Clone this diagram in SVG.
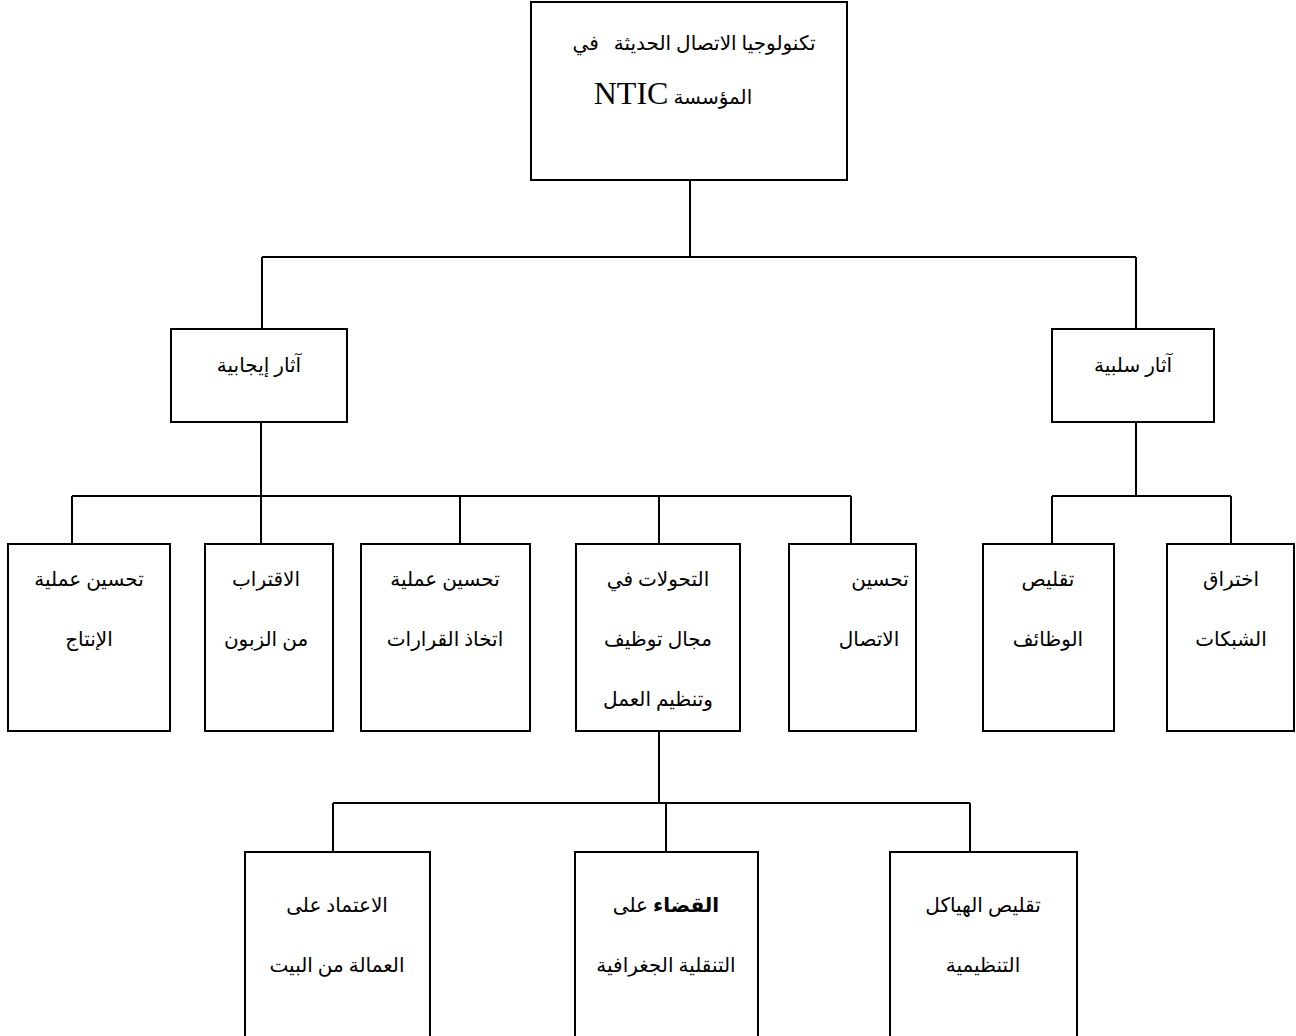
<svg xmlns="http://www.w3.org/2000/svg" width="1296" height="1036" viewBox="0 0 1296 1036">
<style>
.box{fill:#fff;stroke:#000;stroke-width:2}
.ln{fill:none;stroke:#000;stroke-width:2}
text{font-family:"Liberation Serif","DejaVu Sans",serif;font-size:20px;fill:#000;text-anchor:middle;direction:rtl}
.lat{font-size:32px}
</style>
<rect width="1296" height="1036" fill="#fff"/>
<g id="connectors">
<path class="ln" d="M690 180V257M262 257H1136M262 257V329M1136 257V329"/>
<path class="ln" d="M261 422V496M72 496H851M72 496V544M261 496V544M460 496V544M659 496V544M851 496V544"/>
<path class="ln" d="M1136 422V496M1052 496H1231M1052 496V544M1231 496V544"/>
<path class="ln" d="M659 731V803M333 803H970M333 803V852M666 803V852M970 803V852"/>
</g>
<g id="root"><rect class="box" x="531" y="2" width="316" height="178"/>
<text x="694" y="50" xml:space="preserve">تكنولوجيا الاتصال الحديثة   في</text>
<text x="673" y="104"><tspan>المؤسسة </tspan><tspan class="lat">NTIC</tspan></text></g>
<g id="pos"><rect class="box" x="171" y="329" width="176" height="93"/><text x="259" y="372">آثار إيجابية</text></g>
<g id="neg"><rect class="box" x="1052" y="329" width="162" height="93"/><text x="1133" y="372">آثار سلبية</text></g>
<g id="b1"><rect class="box" x="8" y="544" width="162" height="187"/><text x="89" y="586">تحسين عملية</text><text x="89" y="646">الإنتاج</text></g>
<g id="b2"><rect class="box" x="205" y="544" width="128" height="187"/><text x="266" y="586">الاقتراب</text><text x="266" y="646">من الزبون</text></g>
<g id="b3"><rect class="box" x="361" y="544" width="169" height="187"/><text x="445" y="586">تحسين عملية</text><text x="445" y="646">اتخاذ القرارات</text></g>
<g id="b4"><rect class="box" x="576" y="544" width="164" height="187"/><text x="658" y="586">التحولات في</text><text x="658" y="646">مجال توظيف</text><text x="658" y="706">وتنظيم العمل</text></g>
<g id="b5"><rect class="box" x="789" y="544" width="127" height="187"/><text x="880" y="586">تحسين</text><text x="869" y="646">الاتصال</text></g>
<g id="b6"><rect class="box" x="983" y="544" width="131" height="187"/><text x="1048" y="586">تقليص</text><text x="1048" y="646">الوظائف</text></g>
<g id="b7"><rect class="box" x="1167" y="544" width="127" height="187"/><text x="1231" y="586">اختراق</text><text x="1231" y="646">الشبكات</text></g>
<g id="c1"><rect class="box" x="245" y="852" width="185" height="200"/><text x="337" y="912">الاعتماد على</text><text x="337" y="972">العمالة من البيت</text></g>
<g id="c2"><rect class="box" x="575" y="852" width="183" height="200"/><text x="666" y="912"><tspan font-weight="bold">القضاء</tspan> على</text><text x="666" y="972">التنقلية الجغرافية</text></g>
<g id="c3"><rect class="box" x="890" y="852" width="187" height="200"/><text x="983" y="912">تقليص الهياكل</text><text x="983" y="972">التنظيمية</text></g>
</svg>
